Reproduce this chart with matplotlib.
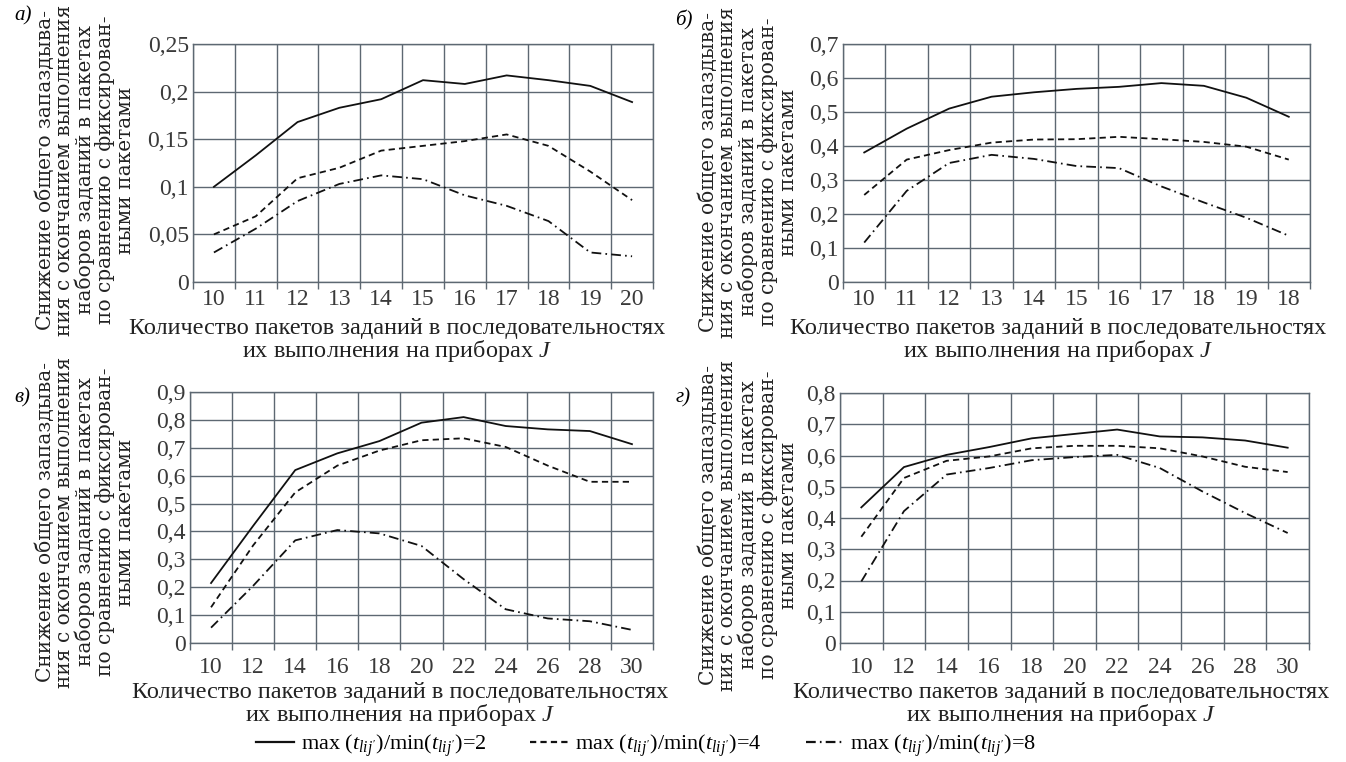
import numpy as np
import matplotlib
matplotlib.use("Agg")
import matplotlib.pyplot as plt
from matplotlib.lines import Line2D

plt.rcParams["font.family"] = ["Liberation Serif", "DejaVu Serif"]
plt.rcParams["mathtext.fontset"] = "custom"
plt.rcParams["mathtext.rm"] = "Liberation Serif"
plt.rcParams["mathtext.it"] = "Liberation Serif:italic"
plt.rcParams["lines.scale_dashes"] = False

# ---------- data ----------
cats_a = ["10", "11", "12", "13", "14", "15", "16", "17", "18", "19", "20"]
a_r2 = [0.100, 0.133, 0.168, 0.183, 0.192, 0.212, 0.208, 0.217, 0.212, 0.206, 0.189]
a_r4 = [0.050, 0.069, 0.109, 0.120, 0.138, 0.143, 0.148, 0.155, 0.143, 0.116, 0.086]
a_r8 = [0.031, 0.056, 0.085, 0.103, 0.112, 0.108, 0.091, 0.080, 0.064, 0.031, 0.027]

cats_b = ["10", "11", "12", "13", "14", "15", "16", "17", "18", "19", "18"]
b_r2 = [0.381, 0.451, 0.510, 0.545, 0.558, 0.568, 0.574, 0.585, 0.577, 0.542, 0.486]
b_r4 = [0.256, 0.360, 0.388, 0.410, 0.419, 0.420, 0.427, 0.420, 0.412, 0.398, 0.360]
b_r8 = [0.116, 0.268, 0.350, 0.374, 0.362, 0.341, 0.335, 0.281, 0.234, 0.189, 0.136]

cats_c = ["10", "12", "14", "16", "18", "20", "22", "24", "26", "28", "30"]
c_r2 = [0.215, 0.420, 0.620, 0.680, 0.724, 0.790, 0.810, 0.778, 0.766, 0.760, 0.713]
c_r4 = [0.128, 0.350, 0.540, 0.636, 0.690, 0.727, 0.734, 0.703, 0.636, 0.578, 0.578]
c_r8 = [0.055, 0.205, 0.368, 0.405, 0.393, 0.348, 0.229, 0.121, 0.088, 0.078, 0.047]

cats_d = ["10", "12", "14", "16", "18", "20", "22", "24", "26", "28", "30"]
d_r2 = [0.434, 0.563, 0.602, 0.627, 0.655, 0.669, 0.683, 0.661, 0.658, 0.648, 0.625]
d_r4 = [0.340, 0.528, 0.583, 0.597, 0.623, 0.631, 0.631, 0.623, 0.597, 0.564, 0.547]
d_r8 = [0.197, 0.422, 0.539, 0.560, 0.585, 0.595, 0.602, 0.560, 0.485, 0.416, 0.352]

legend_labels = [
    r"max $(t_{lij'})$/min$(t_{lij'})$=2",
    r"max $(t_{lij'})$/min$(t_{lij'})$=4",
    r"max $(t_{lij'})$/min$(t_{lij'})$=8",
]

ylab = ("Снижение общего запаздыва-\nния с окончанием выполнения\n"
        "наборов заданий в пакетах\nпо сравнению с фиксирован-\nными пакетами")
xlab = "Количество пакетов заданий в последовательностях\nих выполнения на приборах $J$"

W, H = 1346, 762
GRID = "#5d6872"
styles = [dict(linestyle="-"),
          dict(dashes=(4.5, 3)),
          dict(dashes=(7, 3, 1.2, 3))]

fig = plt.figure(figsize=(W / 100, H / 100), dpi=100)


def px_axes(left, top, right, bottom):
    return fig.add_axes([left / W, 1 - bottom / H, (right - left) / W, (bottom - top) / H])


def draw_panel(ax, cats, series, ymax, ystep, xpad):
    n = len(cats)
    x = np.arange(n)
    for vals, st in zip(series, styles):
        ax.plot(x, vals, color="#111111", linewidth=1.3, **st)
    ax.set_xlim(-0.5, n - 0.5)
    ax.set_ylim(0, ymax)
    yt = np.round(np.arange(0, ymax + ystep / 2, ystep), 2)
    ax.set_yticks(yt)
    ax.set_yticklabels([f"{v:g}".replace(".", ",") for v in yt])
    # category boundaries carry the ticks and grid, centres carry the labels
    ax.set_xticks(np.arange(n + 1) - 0.5)
    ax.set_xticklabels([])
    ax.set_xticks(x, minor=True)
    ax.set_xticklabels(cats, minor=True)
    ax.tick_params(axis="x", which="major", length=5, color=GRID, width=1)
    ax.tick_params(axis="x", which="minor", length=0, pad=xpad, labelsize=17, labelcolor="#3a3a3a")
    ax.tick_params(axis="y", length=0, pad=3, labelsize=17, labelcolor="#3a3a3a")
    ax.grid(True, which="major", color=GRID, linewidth=1.0)
    ax.set_axisbelow(True)
    for sp in ax.spines.values():
        sp.set_color(GRID)
        sp.set_linewidth(1.0)


panels = [
    ((193, 44, 653, 282), cats_a, (a_r2, a_r4, a_r8), 0.25, 0.05, 5),
    ((843, 44, 1310, 282), cats_b, (b_r2, b_r4, b_r8), 0.7, 0.1, 5),
    ((190, 392, 653, 643), cats_c, (c_r2, c_r4, c_r8), 0.9, 0.1, 10),
    ((840, 393, 1309, 643), cats_d, (d_r2, d_r4, d_r8), 0.8, 0.1, 10),
]
letters = ["а)", "б)", "в)", "г)"]
letter_pos = [(14, 16), (675, 20), (14, 398), (676, 398)]
ylab_pos = [(85, 170), (748, 172), (85, 522), (748, 525)]
xlab_pos = [(397, 341), (1058, 341), (400, 705), (1061, 705)]

for (box, cats, series, ymax, ystep, xpad), let, lp, yp, xp in zip(
        panels, letters, letter_pos, ylab_pos, xlab_pos):
    ax = px_axes(*box)
    draw_panel(ax, cats, series, ymax, ystep, xpad)
    fig.text(lp[0] / W, 1 - lp[1] / H, let, fontsize=15, style="italic",
             ha="left", va="center")
    fig.text(yp[0] / W, 1 - yp[1] / H, ylab, rotation=90, fontsize=14.5,
             family="DejaVu Serif", ha="center", va="center",
             multialignment="center", linespacing=1.02, color="#222222")
    fig.text(xp[0] / W, 1 - xp[1] / H, xlab, fontsize=17.5, ha="center",
             va="center", multialignment="center", linespacing=0.92, color="#222222")

handles = [Line2D([], [], color="#111111", linewidth=1.6, **st) for st in styles]
fig.legend(handles, legend_labels, loc="center", bbox_to_anchor=(0.48, 1 - 746 / H),
           ncol=3, frameon=False, fontsize=16, handlelength=1.7,
           handletextpad=0.3, columnspacing=2.0)

fig.savefig("out.png", dpi=100)
